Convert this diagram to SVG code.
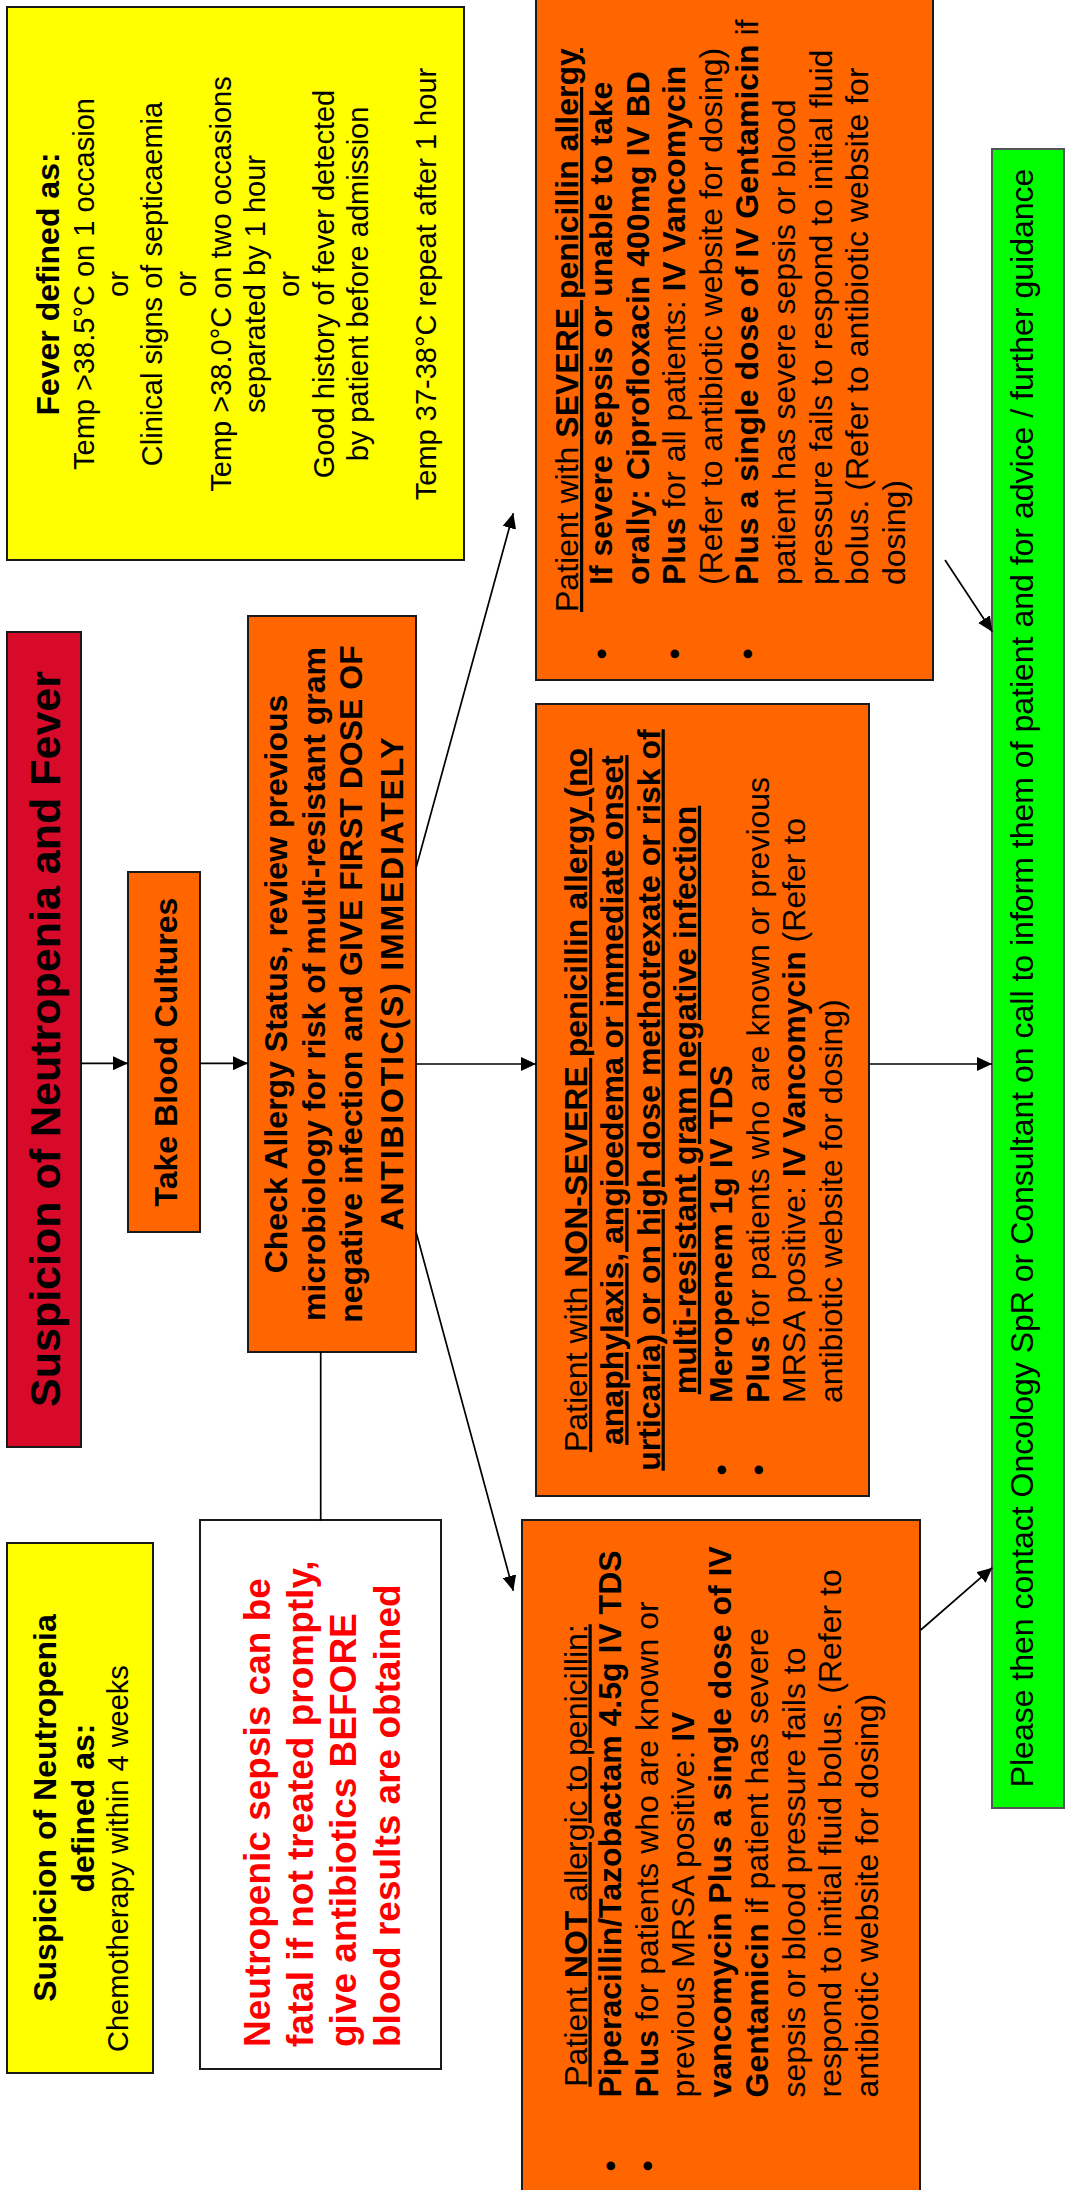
<svg xmlns="http://www.w3.org/2000/svg" width="1065" height="2190" viewBox="0 0 1065 2190">
<style>
.t{font-family:"Liberation Sans",Arial,Helvetica,sans-serif;fill:#000}
.b{font-weight:bold}
.s29{font-size:29px}
.s32{font-size:32px}
.box{stroke:#1a1a1a;stroke-width:2}
.c{stroke:#000;stroke-width:1.7;fill:none}
.u{text-decoration:underline}
</style>
<defs>
<marker id="ah" markerUnits="userSpaceOnUse" markerWidth="16" markerHeight="14" refX="15" refY="7" orient="auto"><path d="M0,0 L15,7 L0,14 z" fill="#000"/></marker>
</defs>
<rect width="1065" height="2190" fill="#fff"/>
<g transform="translate(0,2190) rotate(-90)">
<g id="fever-def">
<rect class="box" x="1630" y="7" width="553" height="457" fill="#ffff00"/>
<text class="t s29" text-anchor="middle"><tspan class="b s32" x="1906" y="59">Fever defined as:</tspan><tspan x="1906" y="93.5">Temp &gt;38.5°C on 1 occasion</tspan><tspan x="1906" y="127.8">or</tspan><tspan x="1906" y="162">Clinical signs of septicaemia</tspan><tspan x="1906" y="196.3">or</tspan><tspan x="1906" y="230.6">Temp &gt;38.0°C on two occasions</tspan><tspan x="1906" y="265">separated by 1 hour</tspan><tspan x="1906" y="299.2">or</tspan><tspan x="1906" y="333.5">Good history of fever detected</tspan><tspan x="1906" y="367.8">by patient before admission</tspan><tspan x="1906" y="436.4">Temp 37-38°C repeat after 1 hour</tspan></text>
</g>
<g id="suspicion">
<rect class="box" x="743" y="7" width="815" height="74" fill="#d70a2a"/>
<text class="t b" font-size="43" text-anchor="middle" x="1151" y="60">Suspicion of Neutropenia and Fever</text>
</g>
<g id="neutropenia-def">
<rect class="box" x="117" y="7" width="530" height="146" fill="#ffff00"/>
<text class="t b s32" text-anchor="middle" x="382" y="56">Suspicion of Neutropenia</text>
<text class="t b s32" text-anchor="middle" x="382" y="94">defined as:</text>
<text class="t s29" x="138" y="128">Chemotherapy within 4 weeks</text>
</g>
<g id="blood-cultures">
<rect class="box" x="958" y="128" width="360" height="72" fill="#ff6600"/>
<text class="t b s32" text-anchor="middle" x="1138" y="177">Take Blood Cultures</text>
</g>
<g id="check-allergy">
<rect class="box" x="838" y="248" width="736" height="168" fill="#ff6600"/>
<text class="t b s32" text-anchor="middle"><tspan x="1206" y="287">Check Allergy Status, review previous</tspan><tspan x="1206" y="325">microbiology for risk of multi-resistant gram</tspan><tspan x="1206" y="362">negative infection and GIVE FIRST DOSE OF</tspan></text>
<text class="t b s32" text-anchor="middle" x="1206" y="403" textLength="493" lengthAdjust="spacing">ANTIBIOTIC(S) IMMEDIATELY</text>
</g>
<g id="warning">
<rect class="box" x="121" y="200" width="549" height="241" fill="#ffffff"/>
<text class="t b" font-size="37" style="fill:#ff0000"><tspan x="143" y="270">Neutropenic sepsis can be</tspan><tspan x="143" y="313">fatal if not treated promptly,</tspan><tspan x="143" y="356">give antibiotics BEFORE</tspan><tspan x="143" y="400">blood results are obtained</tspan></text>
</g>
<g id="severe-allergy">
<rect class="box" x="1510" y="536" width="690" height="397" fill="#ff6600"/>
<text class="t s32 u" x="1578" y="578">Patient with <tspan class="b">SEVERE penicillin allergy</tspan></text>
<text class="t s32" text-anchor="middle"><tspan x="1536" y="612">•</tspan><tspan x="1536" y="685.2">•</tspan><tspan x="1536" y="758.4">•</tspan></text>
<text class="t s32"><tspan class="b" x="1605" y="612">If severe sepsis or unable to take</tspan><tspan class="b" x="1605" y="648.6">orally: Ciprofloxacin 400mg IV BD</tspan><tspan x="1605" y="685.2"><tspan class="b">Plus</tspan> for all patients: <tspan class="b">IV Vancomycin</tspan></tspan><tspan x="1605" y="721.8">(Refer to antibiotic website for dosing)</tspan><tspan x="1605" y="758.4"><tspan class="b">Plus a single dose of IV Gentamicin</tspan> if</tspan><tspan x="1605" y="795">patient has severe sepsis or blood</tspan><tspan x="1605" y="831.6">pressure fails to respond to initial fluid</tspan><tspan x="1605" y="868.2">bolus. (Refer to antibiotic website for</tspan><tspan x="1605" y="904.8">dosing)</tspan></text>
</g>
<g id="non-severe-allergy">
<rect class="box" x="694" y="536" width="792" height="333" fill="#ff6600"/>
<text class="t s32 u" text-anchor="middle"><tspan x="1090" y="587">Patient with <tspan class="b">NON-SEVERE penicillin allergy (no</tspan></tspan><tspan class="b" x="1090" y="623.3">anaphylaxis, angioedema or immediate onset</tspan><tspan class="b" x="1090" y="659.6">urticaria) or on high dose methotrexate or risk of</tspan><tspan class="b" x="1090" y="695.9">multi-resistant gram negative infection</tspan></text>
<text class="t s32" text-anchor="middle"><tspan x="720" y="732">•</tspan><tspan x="720" y="768.5">•</tspan></text>
<text class="t s32"><tspan class="b" x="787" y="732">Meropenem 1g IV TDS</tspan><tspan x="787" y="768.5"><tspan class="b">Plus</tspan> for patients who are known or previous</tspan><tspan x="787" y="805">MRSA positive: <tspan class="b">IV Vancomycin</tspan> (Refer to</tspan><tspan x="787" y="841.5">antibiotic website for dosing)</tspan></text>
</g>
<g id="not-allergic">
<rect class="box" x="-5" y="522" width="675" height="398" fill="#ff6600"/>
<text class="t s32 u" text-anchor="middle" x="334.5" y="586.5">Patient <tspan class="b">NOT</tspan> allergic to penicillin:</text>
<text class="t s32" text-anchor="middle"><tspan x="24" y="621">•</tspan><tspan x="24" y="657.7">•</tspan></text>
<text class="t s32"><tspan class="b" x="92.5" y="621">Piperacillin/Tazobactam 4.5g IV TDS</tspan><tspan x="92.5" y="657.7"><tspan class="b">Plus</tspan> for patients who are known or</tspan><tspan x="92.5" y="694.4">previous MRSA positive: <tspan class="b">IV</tspan></tspan><tspan class="b" x="92.5" y="731.1">vancomycin Plus a single dose of IV</tspan><tspan x="92.5" y="767.8"><tspan class="b">Gentamicin</tspan> if patient has severe</tspan><tspan x="92.5" y="804.5">sepsis or blood pressure fails to</tspan><tspan x="92.5" y="841.2">respond to initial fluid bolus. (Refer to</tspan><tspan x="92.5" y="877.9">antibiotic website for dosing)</tspan></text>
</g>
<g id="contact">
<rect x="382" y="992" width="1659" height="72" fill="#00ff00" stroke="#555" stroke-width="2"/>
<text class="t s32" text-anchor="middle" x="1212" y="1033">Please then contact Oncology SpR or Consultant on call to inform them of patient and for advice / further guidance</text>
</g>
<g id="connectors">
<line class="c" x1="1126.7" y1="81" x2="1126.7" y2="128" marker-end="url(#ah)"/>
<line class="c" x1="1126.7" y1="200" x2="1126.7" y2="248" marker-end="url(#ah)"/>
<line class="c" x1="1126" y1="416" x2="1126" y2="536" marker-end="url(#ah)"/>
<line class="c" x1="1126" y1="869" x2="1126" y2="992" marker-end="url(#ah)"/>
<line class="c" x1="1322" y1="416" x2="1676.7" y2="513.3" marker-end="url(#ah)"/>
<line class="c" x1="958.3" y1="416" x2="599.3" y2="513.3" marker-end="url(#ah)"/>
<line class="c" x1="838.3" y1="320.7" x2="669.3" y2="320.7"/>
<line class="c" x1="1630" y1="945" x2="1558.3" y2="992.3" marker-end="url(#ah)"/>
<line class="c" x1="560" y1="920.7" x2="622.3" y2="992.3" marker-end="url(#ah)"/>
</g>
</g>
</svg>
